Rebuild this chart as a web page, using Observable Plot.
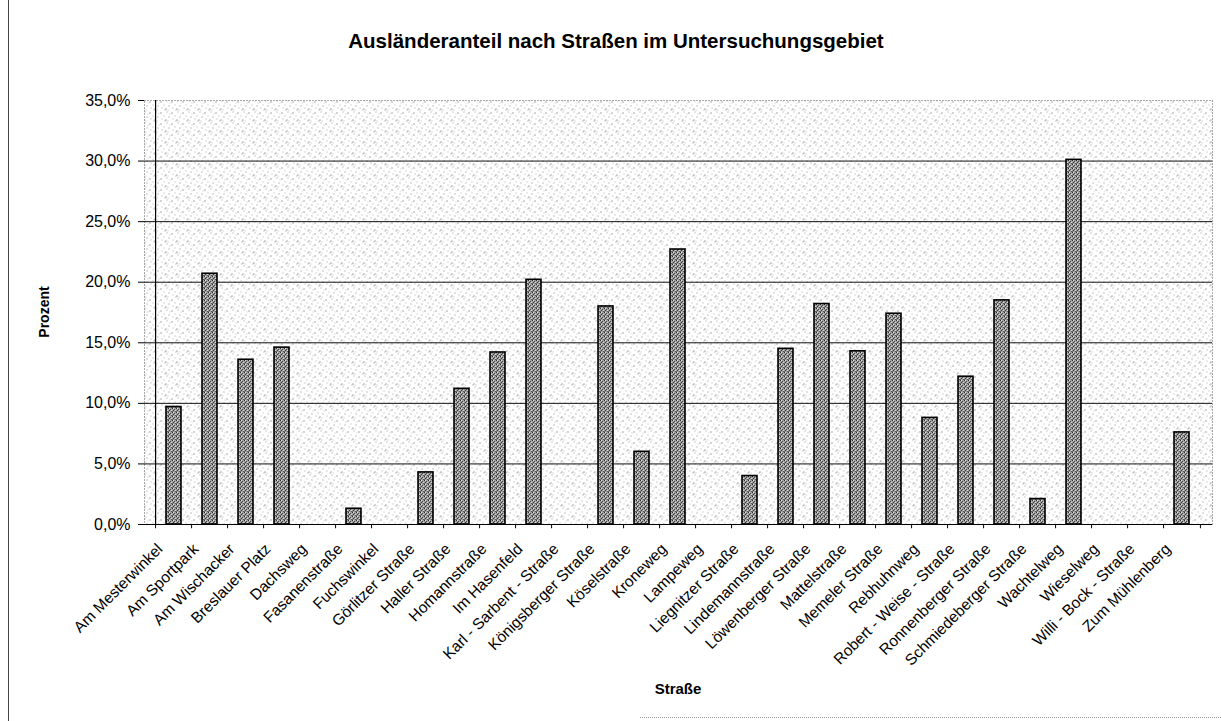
<!DOCTYPE html>
<html>
<head>
<meta charset="utf-8">
<script src="https://cdn.jsdelivr.net/npm/d3@7"></script>
<script src="https://cdn.jsdelivr.net/npm/@observablehq/plot@0.6"></script>
<style>
  html, body { margin: 0; padding: 0; background: #fff; }
  #wrap { position: relative; width: 1221px; height: 721px; overflow: hidden; font-family: "Liberation Sans", Arial, sans-serif; color: #000; }
  #chart { position: absolute; left: 0; top: 0; }
  .title { position: absolute; left: 116px; width: 1000px; top: 30px; text-align: center; font-size: 20.5px; font-weight: bold; line-height: 22px; }
  .xlab { position: absolute; left: 578px; width: 200px; top: 680px; text-align: center; font-size: 15px; font-weight: bold; line-height: 18px; }
  .ylab { position: absolute; left: 44px; top: 312px; transform: translate(-50%, -50%) rotate(-90deg); font-size: 14px; font-weight: bold; white-space: nowrap; }
  .pageborder { position: absolute; left: 8px; top: 0; width: 0; height: 721px; border-left: 1px solid #444; }
  .bottomline { position: absolute; left: 640px; top: 717px; width: 581px; height: 0; border-top: 1px dotted #999; }
</style>
</head>
<body>
<div id="wrap">
  <div class="pageborder"></div>
  <div class="bottomline"></div>
  <div class="title">Ausländeranteil nach Straßen im Untersuchungsgebiet</div>
  <div class="ylab">Prozent</div>
  <div class="xlab">Straße</div>
  <div id="chart"></div>
</div>
<script>
const streets = [
  "Am Mesterwinkel", "Am Sportpark", "Am Wischacker", "Breslauer Platz", "Dachsweg",
  "Fasanenstraße", "Fuchswinkel", "Görlitzer Straße", "Haller Straße", "Homannstraße",
  "Im Hasenfeld", "Karl - Sarbent - Straße", "Königsberger Straße", "Köselstraße", "Kroneweg",
  "Lampeweg", "Liegnitzer Straße", "Lindemannstraße", "Löwenberger Straße", "Mattelstraße",
  "Memeler Straße", "Rebhuhnweg", "Robert - Weise - Straße", "Ronnenberger Straße", "Schmiedeberger Straße",
  "Wachtelweg", "Wieselweg", "Willi - Bock - Straße", "Zum Mühlenberg"
];
const shares = [
  9.7, 20.7, 13.6, 14.6, 0,
  1.3, 0, 4.3, 11.2, 14.2,
  20.2, 0, 18.0, 6.0, 22.7,
  0, 4.0, 14.5, 18.2, 14.3,
  17.4, 8.8, 12.2, 18.5, 2.1,
  30.1, 0, 0, 7.6
];
const yTicks = [0, 5, 10, 15, 20, 25, 30, 35];
const gridValues = [5, 10, 15, 20, 25, 30];

const data = streets.map((s, i) => ({street: s, value: shares[i]}));

const W = 1221, H = 721;
const mL = 144, mR = 9, mT = 100, mB = 197;
const step = (W - mL - mR) / streets.length;

const chart = Plot.plot({
  width: W,
  height: H,
  marginLeft: mL,
  marginRight: mR,
  marginTop: mT,
  marginBottom: mB,
  style: {fontFamily: "'Liberation Sans', Arial, sans-serif", color: "#000", background: "transparent", overflow: "visible"},
  x: {domain: streets, paddingInner: 0.58, paddingOuter: 0.29, axis: null},
  y: {domain: [0, 35], axis: null},
  marks: [
    Plot.frame({fill: "url(#bgPat)", stroke: null}),
    Plot.frame({stroke: "#555", strokeDasharray: "1,2", strokeWidth: 1}),
    Plot.ruleY(gridValues, {stroke: "#111", strokeWidth: 1}),
    Plot.barY(data.filter(d => d.value > 0), {x: "street", y: "value", fill: "url(#barPat)", stroke: "#000", strokeWidth: 1.6}),
    // category boundary ticks
    Plot.ruleX(streets, {x: d => d, dx: -step / 2, y1: 0, y2: -0.35, stroke: "#000"}),
    Plot.ruleX([streets[streets.length - 1]], {x: d => d, dx: step / 2, y1: 0, y2: -0.35, stroke: "#000"}),
    // left axis line
    Plot.ruleX([streets[0]], {x: d => d, dx: -step / 2, y1: 0, y2: 35, stroke: "#000", strokeWidth: 1.2}),
    // baseline
    Plot.ruleY([0], {stroke: "#000", strokeWidth: 1.2}),
    Plot.axisY({
      ticks: yTicks,
      tickFormat: d => d.toFixed(1).replace(".", ",") + "%",
      tickSize: 6,
      tickPadding: 8,
      fontSize: 16,
      label: null
    }),
    Plot.text(streets, {
      x: d => d,
      frameAnchor: "bottom",
      text: d => d,
      rotate: -45,
      textAnchor: "end",
      lineAnchor: "middle",
      dx: -14,
      dy: 22,
      fontSize: 15.5,
      fill: "#000"
    })
  ]
});

// stipple patterns
const NS = "http://www.w3.org/2000/svg";
const defs = document.createElementNS(NS, "defs");
function makePattern(id, size, base, dots) {
  const p = document.createElementNS(NS, "pattern");
  p.setAttribute("id", id);
  p.setAttribute("width", size);
  p.setAttribute("height", size);
  p.setAttribute("patternUnits", "userSpaceOnUse");
  const r = document.createElementNS(NS, "rect");
  r.setAttribute("width", size); r.setAttribute("height", size); r.setAttribute("fill", base);
  p.appendChild(r);
  for (const [x, y, c] of dots) {
    const d = document.createElementNS(NS, "rect");
    d.setAttribute("x", x); d.setAttribute("y", y);
    d.setAttribute("width", 1); d.setAttribute("height", 1);
    d.setAttribute("fill", c);
    p.appendChild(d);
  }
  defs.appendChild(p);
}
makePattern("bgPat", 11, "#ffffff", [
  [1, 1, "#9a9a9a"], [6, 2, "#555"], [9, 5, "#b0b0b0"], [3, 6, "#888"],
  [7, 8, "#aaaaaa"], [0, 9, "#666"], [4, 3, "#c4c4c4"], [10, 10, "#999"], [2, 10, "#bbbbbb"]
]);
makePattern("barPat", 4, "#a0a0a0", [
  [0, 0, "#2a2a2a"], [2, 1, "#444"], [1, 2, "#333"], [3, 3, "#555"],
  [1, 0, "#e6e6e6"], [3, 2, "#dcdcdc"], [0, 3, "#666"]
]);
chart.insertBefore(defs, chart.firstChild);

document.getElementById("chart").appendChild(chart);
</script>
</body>
</html>
